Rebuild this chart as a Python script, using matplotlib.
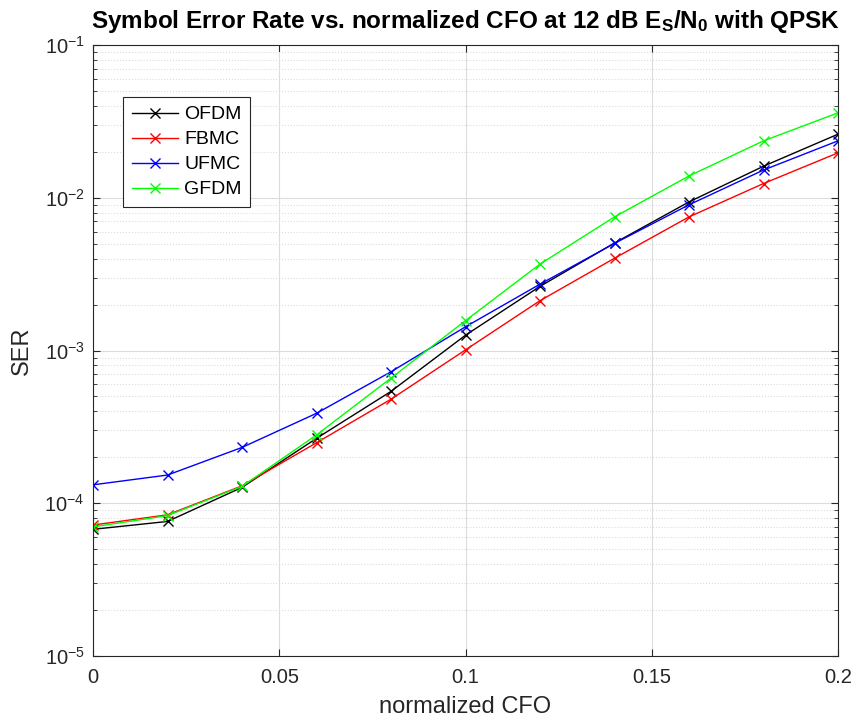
import matplotlib
matplotlib.use('Agg')
import numpy as np
from matplotlib import pyplot as plt
from matplotlib.ticker import LogLocator, NullFormatter

# normalized CFO values
cfo = [0, 0.02, 0.04, 0.06, 0.08, 0.1, 0.12, 0.14, 0.16, 0.18, 0.2]

# SER
ser_ofdm = [6.75e-5, 7.6e-5, 1.27e-4, 2.66e-4, 5.4e-4, 1.26e-3,
            2.63e-3, 5.06e-3, 9.4e-3, 1.61e-2, 2.61e-2]
ser_fbmc = [7.2e-5, 8.4e-5, 1.30e-4, 2.49e-4, 4.8e-4, 1.01e-3,
            2.12e-3, 4.02e-3, 7.5e-3, 1.24e-2, 1.97e-2]
ser_ufmc = [1.32e-4, 1.53e-4, 2.32e-4, 3.88e-4, 7.26e-4, 1.43e-3,
            2.72e-3, 5.03e-3, 9.0e-3, 1.52e-2, 2.36e-2]
ser_gfdm = [7.0e-5, 8.3e-5, 1.29e-4, 2.80e-4, 6.6e-4, 1.57e-3,
            3.68e-3, 7.5e-3, 1.39e-2, 2.36e-2, 3.6e-2]

labels = ['OFDM', 'FBMC', 'UFMC', 'GFDM']
colors = ['black', 'red', 'blue', '#00ff00']

plt.rcParams['font.family'] = ['Liberation Sans', 'DejaVu Sans']
plt.rcParams['mathtext.fontset'] = 'custom'
plt.rcParams['mathtext.rm'] = 'Liberation Sans'
plt.rcParams['mathtext.bf'] = 'Liberation Sans:bold'

fig = plt.figure(figsize=(8.54, 7.27), dpi=100)
ax = fig.add_axes([0.1089, 0.0977, 0.8724, 0.8403])

for ys, lab, col in zip([ser_ofdm, ser_fbmc, ser_ufmc, ser_gfdm],
                        labels, colors):
    ax.semilogy(cfo, ys, color=col, marker='x', markersize=7,
                linewidth=1.0, label=lab)

ax.set_xlim(0, 0.2)
ax.set_ylim(1e-5, 1e-1)
ax.set_xticks([0, 0.05, 0.1, 0.15, 0.2])
ax.set_xticklabels(['0', '0.05', '0.1', '0.15', '0.2'])
ax.yaxis.set_major_locator(LogLocator(base=10, numticks=10))
ax.yaxis.set_minor_locator(LogLocator(base=10, subs=np.arange(2, 10),
                                      numticks=100))
ax.yaxis.set_minor_formatter(NullFormatter())

ax.grid(True, which='major', color='#dcdcdc', linestyle='-', linewidth=0.8)
ax.grid(True, which='minor', axis='y', color='#dcdcdc', linestyle=':',
        linewidth=0.8)
ax.set_axisbelow(True)

ax.tick_params(which='both', direction='in', top=True, right=True,
               labelsize=14.5, colors='#262626')
ax.tick_params(which='major', length=5)
ax.tick_params(which='minor', length=3)
ax.tick_params(axis='x', which='major', pad=9)
ax.tick_params(axis='y', which='major', pad=6)
for sp in ax.spines.values():
    sp.set_color('#262626')
    sp.set_linewidth(0.8)

ax.set_xlabel('normalized CFO', fontsize=17, color='#262626', labelpad=6)
ax.set_ylabel('SER', fontsize=17, color='#262626', labelpad=8)
ax.set_title(r'Symbol Error Rate vs. normalized CFO at 12 dB '
             r'$\mathbf{E_S/N_0}$ with QPSK',
             fontsize=17.5, fontweight='bold', pad=12)

leg = ax.legend(loc='upper left', bbox_to_anchor=(0.040, 0.915),
                fontsize=14, fancybox=False, framealpha=1,
                edgecolor='#262626', handlelength=2.4, handletextpad=0.3,
                borderpad=0.45, labelspacing=0.38, borderaxespad=0)
leg.get_frame().set_linewidth(0.8)

fig.savefig('out.png', dpi=100)
